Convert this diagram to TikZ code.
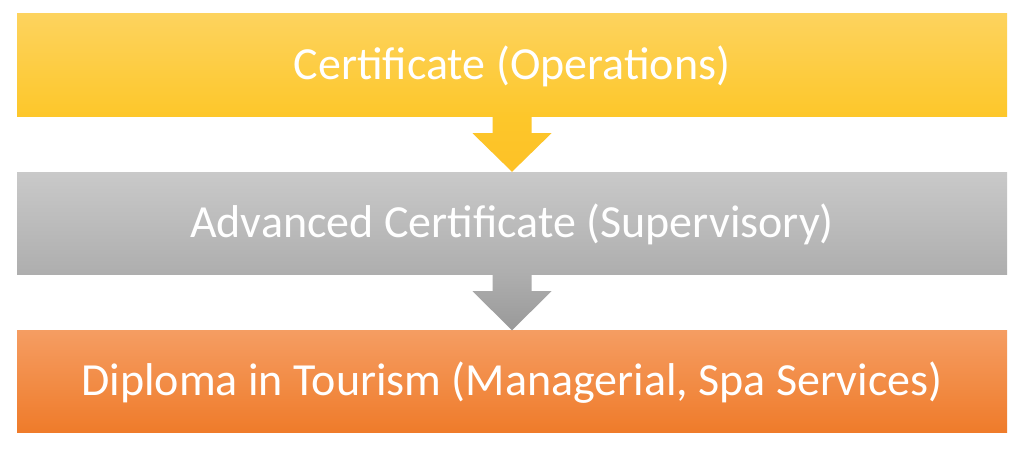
\documentclass[tikz,border=0pt]{standalone}
\usepackage{fontspec}
\setmainfont{Carlito}
\usetikzlibrary{calc}
\definecolor{yelT}{HTML}{FDD35E}
\definecolor{yelB}{HTML}{FDC72A}
\definecolor{gryT}{HTML}{C9C9C9}
\definecolor{gryB}{HTML}{AEAEAE}
\definecolor{orgT}{HTML}{F59D62}
\definecolor{orgB}{HTML}{EF7B2A}
\tikzset{
  stagebox/.style={minimum width=990pt, minimum height=102pt, inner sep=0pt,
    text height=32pt, text depth=4pt,
    text=white, font=\fontsize{46}{55}\selectfont, shading=axis, shading angle=0},
  blockarrow/.style={shading=axis, shading angle=0}
}
\begin{document}
\begin{tikzpicture}[x=1pt,y=-1pt]
\useasboundingbox[fill=white] (0,0) rectangle (1024,452);
\node[stagebox, top color=yelT, bottom color=yelB] (a) at (512,65) {Certificate (Operations)};
\node[stagebox, top color=gryT, bottom color=gryB] (b) at (512,223) {Advanced Certificate (Supervisory)};
\node[stagebox, top color=orgT, bottom color=orgB] (c) at (512,381.5) {Diploma in Tourism (Managerial, Spa Services)};
\path[blockarrow, top color=yelB, bottom color=yelB!92!orange]
  ($(a.south)+(-19.5,0)$) -- ($(a.south)+(-19.5,17)$) -- ($(a.south)+(-39.5,17)$)
  -- (b.north) -- ($(a.south)+(39.5,17)$) -- ($(a.south)+(19.5,17)$) -- ($(a.south)+(19.5,0)$) -- cycle;
\path[blockarrow, top color=gryB, bottom color=gryB!88!black]
  ($(b.south)+(-19.5,0)$) -- ($(b.south)+(-19.5,17)$) -- ($(b.south)+(-39.5,17)$)
  -- (c.north) -- ($(b.south)+(39.5,17)$) -- ($(b.south)+(19.5,17)$) -- ($(b.south)+(19.5,0)$) -- cycle;
\end{tikzpicture}
\end{document}
